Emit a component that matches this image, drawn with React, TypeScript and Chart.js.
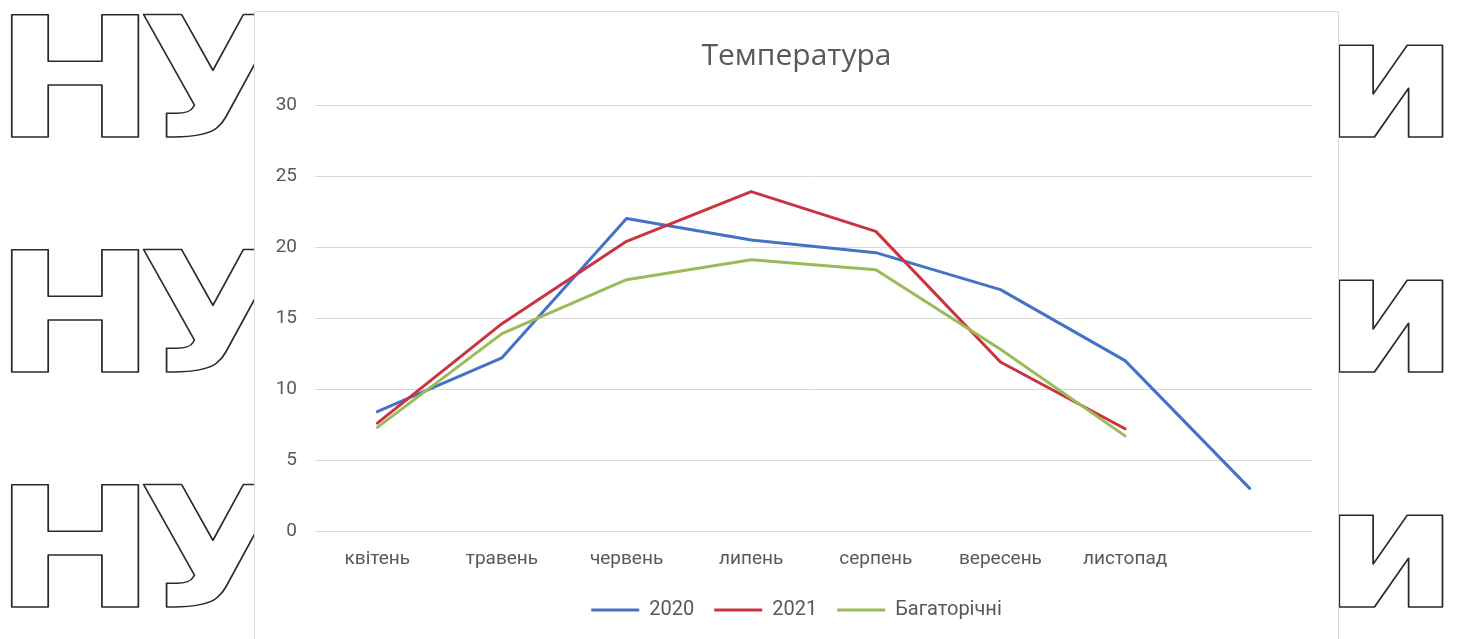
import React, { useEffect, useRef } from "react";
import { Chart, registerables } from "chart.js";

Chart.register(...registerables);

// Months on the category axis (the last slot carries the tail of the 2020 series)
const months = ["квітень", "травень", "червень", "липень", "серпень", "вересень", "листопад", ""];

// Mean monthly temperature, °C
const temps2020 = [8.4, 12.2, 22.0, 20.5, 19.6, 17.0, 12.0, 3.0];
const temps2021 = [7.6, 14.6, 20.4, 23.9, 21.1, 11.9, 7.2, null];
const tempsLongTerm = [7.3, 13.9, 17.7, 19.1, 18.4, 12.8, 6.7, null];

const seriesNames = ["2020", "2021", "Багаторічні"];
const chartTitle = "Температура";

const yMin = 0;
const yMax = 30;
const yStep = 5;

const COLORS = ["#4472C4", "#CC3340", "#9BBB59"];
const TEXT = "#595959";
const GRID = "#d9d9d9";
const FONT = "Roboto, 'Noto Sans', sans-serif";
const TITLE_FONT = "'Open Sans', 'Noto Sans', sans-serif";

function TemperatureChart() {
  const canvasRef = useRef<HTMLCanvasElement | null>(null);

  useEffect(() => {
    const canvas = canvasRef.current;
    if (!canvas) return;
    const series = [temps2020, temps2021, tempsLongTerm];
    const chart = new Chart(canvas, {
      type: "line",
      data: {
        labels: months,
        datasets: series.map((values, i) => ({
          label: seriesNames[i],
          data: values,
          yAxisID: "y",
          borderColor: COLORS[i],
          backgroundColor: COLORS[i],
          borderWidth: 3,
          pointRadius: 0,
          pointHoverRadius: 0,
          tension: 0,
          fill: false,
          spanGaps: false,
          borderJoinStyle: "round" as const,
          borderCapStyle: "round" as const,
          // later series are painted over earlier ones
          order: 3 - i,
        })),
      },
      options: {
        animation: false,
        responsive: true,
        maintainAspectRatio: false,
        layout: { padding: { top: 0, right: 0, bottom: 22, left: 0 } },
        plugins: {
          title: {
            display: true,
            text: chartTitle,
            color: TEXT,
            font: { family: TITLE_FONT, size: 30, weight: "normal" },
            padding: { top: 26, bottom: 31 },
          },
          legend: {
            position: "bottom",
            labels: {
              color: TEXT,
              font: { family: FONT, size: 20 },
              boxWidth: 48,
              boxHeight: 3,
              padding: 20,
              sort: (a, b) => (a.datasetIndex ?? 0) - (b.datasetIndex ?? 0),
              generateLabels: (c) =>
                Chart.defaults.plugins.legend.labels
                  .generateLabels(c)
                  .map((item) => ({ ...item, lineWidth: 0 })),
            },
          },
          tooltip: { enabled: false },
        },
        scales: {
          x: {
            type: "category",
            offset: true,
            grid: { display: false, drawTicks: false },
            border: { display: false },
            ticks: {
              color: TEXT,
              font: { family: FONT, size: 19 },
              padding: 17,
              maxRotation: 0,
              autoSkip: false,
            },
            afterFit: (scale) => {
              scale.height = 49;
            },
          },
          y: {
            min: yMin,
            max: yMax,
            grid: { color: GRID, lineWidth: 1, drawTicks: false },
            border: { display: false },
            ticks: {
              stepSize: yStep,
              color: TEXT,
              font: { family: FONT, size: 19 },
              padding: 18,
            },
            afterFit: (scale) => {
              scale.width = 60;
            },
          },
          // empty right-hand margin of the plot, kept as a blank axis so the legend stays centred
          margin: {
            type: "linear",
            position: "right",
            min: yMin,
            max: yMax,
            grid: { display: false, drawTicks: false },
            border: { display: false },
            ticks: { display: false },
            afterFit: (scale) => {
              scale.width = 26;
            },
          },
        },
      },
    });
    return () => chart.destroy();
  }, []);

  return <canvas ref={canvasRef} />;
}

// Outlined lettering that sits behind the chart panel
const backdropBaselines = [137, 372, 607];

function Backdrop() {
  const glyph = {
    fontFamily: "'DejaVu Sans', sans-serif",
    fontWeight: 700,
    fontSize: 167,
    fill: "none",
    stroke: "#2a2a2a",
    strokeWidth: 1.5,
    strokeLinejoin: "round" as const,
  };
  return (
    <svg width={1460} height={639} style={{ position: "absolute", left: 0, top: 0 }}>
      {backdropBaselines.map((y) => (
        <g key={y}>
          <text transform={`translate(-6 ${y}) scale(1.16 1)`} {...glyph}>Н</text>
          <text transform={`translate(138 ${y}) scale(1.16 1)`} {...glyph}>У</text>
          <text transform={`translate(1323 ${y}) scale(1.16 1)`} {...glyph}>и</text>
        </g>
      ))}
    </svg>
  );
}

export default function App() {
  return (
    <div
      style={{
        position: "fixed",
        left: 0,
        top: 0,
        width: 1460,
        height: 639,
        overflow: "hidden",
        background: "#ffffff",
      }}
    >
      <Backdrop />
      <div
        style={{
          position: "absolute",
          left: 254,
          top: 11,
          width: 1083,
          height: 660,
          border: "1px solid #d9d9d9",
          background: "#ffffff",
        }}
      >
        <div style={{ position: "relative", width: 1083, height: 640 }}>
          <TemperatureChart />
        </div>
      </div>
    </div>
  );
}
